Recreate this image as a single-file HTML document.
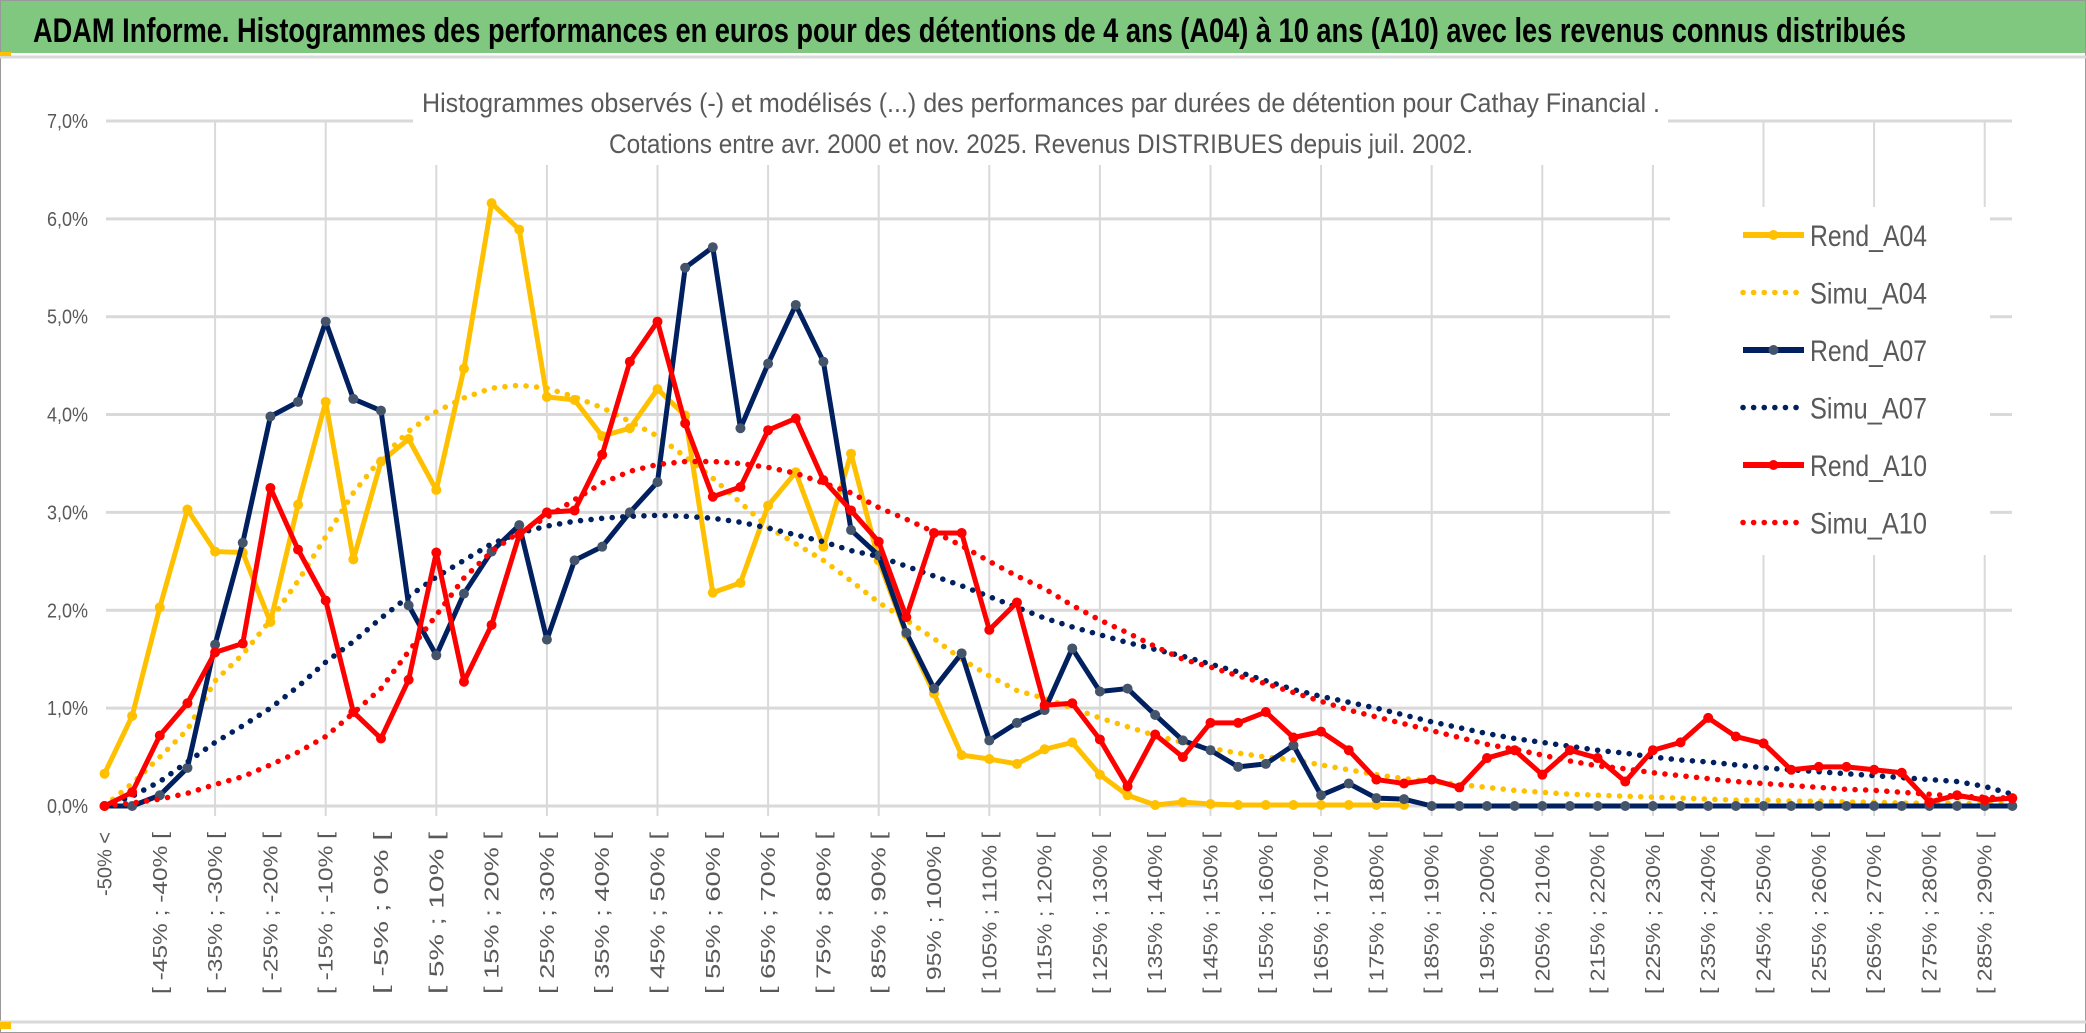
<!DOCTYPE html>
<html><head><meta charset="utf-8"><style>
html,body{margin:0;padding:0;background:#fff;}
svg{display:block;font-family:"Liberation Sans",sans-serif;}
</style></head><body>
<svg id="chart" width="2086" height="1033" viewBox="0 0 2086 1033">
<rect x="0" y="0" width="2086" height="1033" fill="#fff" stroke="#999" stroke-width="2"/>
<rect x="1" y="1" width="2084" height="52" fill="#80c880"/>
<line x1="0" y1="57" x2="2086" y2="57" stroke="#d9d9d9" stroke-width="3"/>
<line x1="0" y1="1022" x2="2086" y2="1022" stroke="#d9d9d9" stroke-width="3"/>
<rect x="0" y="52" width="11" height="4" fill="#ffc000"/>
<rect x="0" y="1022" width="11" height="7" fill="#ffc000"/>
<text x="33" y="42" font-size="34" font-weight="bold" fill="#000" textLength="1873" lengthAdjust="spacingAndGlyphs">ADAM Informe. Histogrammes des performances en euros pour des détentions de 4 ans (A04) à 10 ans (A10) avec les revenus connus distribués</text>
<g id="grid"></g>
<rect x="413" y="70" width="1255" height="95" fill="#fff"/>
<rect x="1670" y="207" width="320" height="348" fill="#fff"/>
<text x="422" y="112" font-size="27" fill="#595959" textLength="1238" lengthAdjust="spacingAndGlyphs">Histogrammes observés (-) et modélisés (...) des performances par durées de détention pour Cathay Financial .</text>
<text x="609" y="153" font-size="27" fill="#595959" textLength="864" lengthAdjust="spacingAndGlyphs">Cotations entre avr. 2000 et nov. 2025. Revenus DISTRIBUES depuis juil. 2002.</text>
<g id="yaxis"></g>
<g id="xaxis"></g>
<g id="series"></g>
<g id="legend"></g>
</svg>
<script>
const yTicks=[0,1,2,3,4,5,6,7];
const rendA04=[0.33,0.92,2.03,3.03,2.6,2.59,1.88,3.08,4.13,2.52,3.52,3.75,3.23,4.47,6.16,5.89,4.18,4.15,3.78,3.86,4.26,3.99,2.18,2.28,3.07,3.41,2.65,3.6,2.51,1.75,1.15,0.52,0.48,0.43,0.58,0.65,0.32,0.11,0.01,0.04,0.02,0.01,0.01,0.01,0.01,0.01,0.01,0.01];
const simuA04=[0,0.23,0.5,0.78,1.28,1.55,1.9,2.3,2.75,3.2,3.55,3.83,4.03,4.17,4.27,4.3,4.27,4.18,4.07,3.93,3.78,3.57,3.35,3.1,2.85,2.68,2.51,2.3,2.08,1.9,1.71,1.5,1.33,1.18,1.1,1.0,0.9,0.81,0.72,0.65,0.59,0.54,0.5,0.47,0.42,0.37,0.32,0.28,0.25,0.22,0.19,0.16,0.14,0.12,0.11,0.1,0.09,0.08,0.07,0.06,0.06,0.05,0.05,0.04,0.04,0.03,0.03,0.03,0.02,0.02];
const rendA07=[0,0,0.11,0.39,1.65,2.69,3.98,4.13,4.95,4.16,4.04,2.05,1.54,2.17,2.6,2.87,1.7,2.51,2.65,3.0,3.31,5.5,5.71,3.86,4.52,5.12,4.54,2.82,2.56,1.77,1.2,1.56,0.67,0.85,0.98,1.61,1.17,1.2,0.93,0.67,0.57,0.4,0.43,0.62,0.11,0.23,0.08,0.07,0,0,0,0,0,0,0,0,0,0,0,0,0,0,0,0,0,0,0,0,0,0];
const simuA07=[0,0.1,0.25,0.45,0.65,0.82,1.0,1.22,1.47,1.68,1.92,2.14,2.34,2.51,2.68,2.79,2.86,2.91,2.94,2.96,2.97,2.96,2.94,2.9,2.84,2.77,2.7,2.61,2.55,2.45,2.35,2.25,2.14,2.03,1.92,1.83,1.75,1.67,1.6,1.53,1.45,1.37,1.28,1.19,1.12,1.06,1.0,0.93,0.86,0.8,0.74,0.69,0.65,0.61,0.57,0.54,0.5,0.47,0.45,0.42,0.39,0.37,0.35,0.33,0.31,0.29,0.27,0.25,0.2,0.12];
const rendA10=[0,0.14,0.72,1.05,1.57,1.66,3.25,2.62,2.1,0.96,0.69,1.29,2.59,1.27,1.85,2.77,3.0,3.02,3.59,4.54,4.95,3.91,3.16,3.26,3.84,3.96,3.33,3.02,2.7,1.93,2.79,2.79,1.8,2.08,1.03,1.05,0.68,0.2,0.73,0.5,0.85,0.85,0.96,0.7,0.76,0.57,0.27,0.23,0.27,0.19,0.49,0.57,0.32,0.57,0.49,0.25,0.57,0.65,0.9,0.71,0.64,0.37,0.4,0.4,0.37,0.34,0.04,0.11,0.06,0.08];
const simuA10=[0,0.03,0.07,0.13,0.22,0.3,0.42,0.55,0.71,0.95,1.2,1.58,1.95,2.33,2.6,2.8,2.95,3.13,3.3,3.42,3.49,3.52,3.52,3.5,3.46,3.4,3.3,3.2,3.05,2.93,2.8,2.66,2.5,2.35,2.22,2.05,1.9,1.77,1.63,1.5,1.42,1.33,1.25,1.16,1.07,0.98,0.91,0.84,0.77,0.7,0.63,0.58,0.52,0.46,0.41,0.38,0.34,0.31,0.28,0.25,0.23,0.21,0.19,0.17,0.16,0.14,0.12,0.1,0.09,0.08];
const legendNames=["Rend_A04","Simu_A04","Rend_A07","Simu_A07","Rend_A10","Simu_A10"];
const NS="http://www.w3.org/2000/svg";
const NCAT=70;
function xs(i){return 104.5+i*27.65;}
function ys(v){return 806-v*97.86;}
function mk(tag,attrs,parent){const e=document.createElementNS(NS,tag);for(const k in attrs)e.setAttribute(k,attrs[k]);parent.appendChild(e);return e;}
const grid=document.getElementById('grid');
for(const t of yTicks){
  const l=mk('line',{x1:106,x2:2012,y1:ys(t),y2:ys(t),stroke:'#d9d9d9','stroke-width':3},grid);
  
  
}
for(let i=4;i<NCAT;i+=4){
  const l=mk('line',{x1:xs(i),x2:xs(i),y1:ys(7),y2:ys(0)+10,stroke:'#d9d9d9','stroke-width':2},grid);
  
  
}
const ya=document.getElementById('yaxis');
for(const t of yTicks){
  const tx=mk('text',{x:88,y:ys(t)+7,'font-size':20,fill:'#595959','text-anchor':'end',textLength:41,lengthAdjust:'spacingAndGlyphs'},ya);
  tx.textContent=t.toFixed(1).replace('.',',')+'%';
  
  
}
const xa=document.getElementById('xaxis');
for(let i=0;i<NCAT;i+=2){
  let s;
  if(i===0)s='-50% <';else{const a=5*i-55;s='[ '+a+'% ; '+(a+5)+'% [';}
  const x=xs(i)+7;
  const tx=mk('text',{x:x,y:832,'font-size':20,fill:'#595959','text-anchor':'end',transform:'rotate(-90 '+x+' 832)'},xa);
  if(i>0){tx.setAttribute('textLength',s.length>15?172:162);tx.setAttribute('lengthAdjust','spacingAndGlyphs');}
  tx.textContent=s;
  
  
}
const sg=document.getElementById('series');
function pts(arr){return arr.map((v,i)=>xs(i)+','+ys(v)).join(' ');}
function rend(arr,color,mcolor,name){
  const g=mk('g',{},sg);
  
  
  mk('polyline',{points:pts(arr),fill:'none',stroke:color,'stroke-width':5,'stroke-linejoin':'round'},g);
  arr.forEach((v,i)=>{
    const c=mk('circle',{cx:xs(i),cy:ys(v),r:5,fill:mcolor},g);
    
    
  });
}
function simu(arr,color,name){
  const p=mk('polyline',{points:pts(arr),fill:'none',stroke:color,'stroke-width':5.5,'stroke-linecap':'round','stroke-dasharray':'0.1 10.5'},sg);
  
  
}
rend(rendA04,'#ffc000','#ffc000','rend-a04-line');
simu(simuA04,'#ffc000','simu-a04-line');
rend(rendA07,'#002060','#44546a','rend-a07-line');
simu(simuA07,'#002060','simu-a07-line');
rend(rendA10,'#ff0000','#ff0000','rend-a10-line');
simu(simuA10,'#ff0000','simu-a10-line');
const lg=document.getElementById('legend');
const lcol=['#ffc000','#ffc000','#002060','#002060','#ff0000','#ff0000'];
legendNames.forEach((n,k)=>{
  const y=235+k*57.5;
  const g=mk('g',{},lg);
  
  
  if(k%2===0){
    mk('line',{x1:1743,x2:1804,y1:y,y2:y,stroke:lcol[k],'stroke-width':6},g);
    mk('circle',{cx:1773.5,cy:y,r:5,fill:k===2?'#44546a':lcol[k]},g);
  }else{
    mk('line',{x1:1743,x2:1804,y1:y,y2:y,stroke:lcol[k],'stroke-width':5.5,'stroke-linecap':'round','stroke-dasharray':'0.1 10.5'},g);
  }
  const t=mk('text',{x:1810,y:y+11,'font-size':30,fill:'#595959',textLength:117,lengthAdjust:'spacingAndGlyphs'},g);
  t.textContent=n;
});
</script>
</body></html>
